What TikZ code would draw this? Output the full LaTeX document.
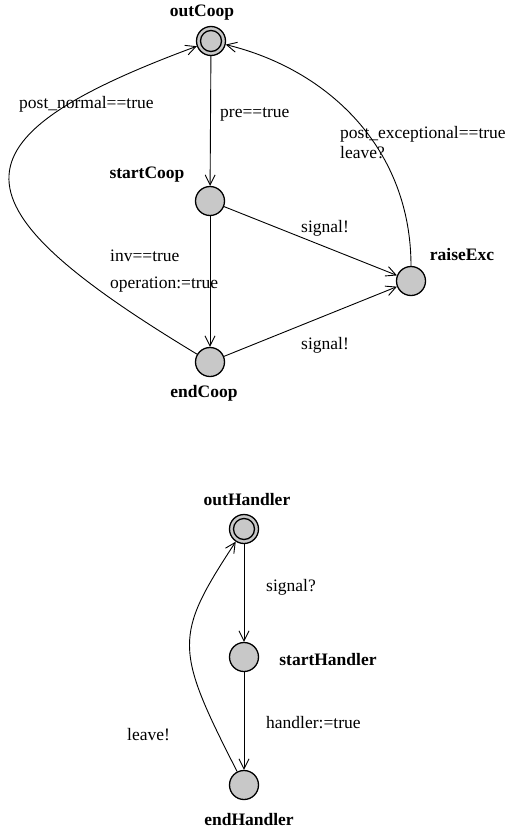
\documentclass[tikz,border=0pt]{standalone}
\usepackage{fontspec}
\setmainfont{Liberation Serif}
\usetikzlibrary{arrows.meta}
\definecolor{locgray}{RGB}{200,200,200}
\begin{document}
\begin{tikzpicture}[x=1pt,y=-1pt,
  every node/.style={font=\fontsize{17.5}{21}\selectfont},
  loc/.style={circle,draw=black,fill=locgray,line width=1.3pt,minimum size=29pt,inner sep=0pt},
  locname/.style={font=\fontsize{17.5}{21}\selectfont\bfseries,inner sep=0pt},
  lbl/.style={anchor=west,inner sep=0pt},
  edge/.style={draw=black,line width=0.9pt,-{Straight Barb[length=10pt,width=10pt,line width=0.9pt]}}]
\useasboundingbox (0,0) rectangle (506,830);

% --- first template: cooperation ---
\node[loc] (outCoop) at (211,41) {};
\draw[line width=1.3pt] (outCoop.center) circle[radius=10.5];
\node[loc] (startCoop) at (210,201) {};
\node[loc] (endCoop) at (210,362) {};
\node[loc] (raiseExc) at (411,281) {};

\node[locname] (outCoopName) at (202,13) {outCoop};
\node[locname] (startCoopName) at (147,175) {startCoop};
\node[locname] (endCoopName) at (204,393) {endCoop};
\node[locname] (raiseExcName) at (462,255) {raiseExc};

\draw[edge] (outCoop) -- (startCoop);
\draw[edge] (startCoop) -- (endCoop);
\draw[edge] (startCoop) -- (raiseExc);
\draw[edge] (endCoop) -- (raiseExc);
\draw[edge] (raiseExc) .. controls (411,150) and (330,70) .. (outCoop);
\draw[edge] (endCoop) .. controls (-50,205) and (-57,140) .. (outCoop);

\node[lbl] (lPostNormal) at (19,104) {post\_normal==true};
\node[lbl] (lPre) at (220,114) {pre==true};
\node[lbl] (lSig1) at (301,228) {signal!};
\node[lbl] (lInv) at (110,256) {inv==true};
\node[lbl] (lOp) at (110,285) {operation:=true};
\node[lbl] (lSig2) at (301,345) {signal!};
\node[lbl] (lPostExc) at (340,134) {post\_exceptional==true};
\node[lbl] (lLeaveQ) at (340,153) {leave?};

% --- second template: handler ---
\node[loc] (outHandler) at (244,529) {};
\draw[line width=1.3pt] (outHandler.center) circle[radius=10.5];
\node[loc] (startHandler) at (244,657) {};
\node[loc] (endHandler) at (244,785) {};

\node[locname] (outHandlerName) at (247,500) {outHandler};
\node[locname] (startHandlerName) at (328,660) {startHandler};
\node[locname] (endHandlerName) at (249,820) {endHandler};

\draw[edge] (outHandler) -- (startHandler);
\draw[edge] (startHandler) -- (endHandler);
\draw[edge] (endHandler) .. controls (174,648) and (174,636) .. (outHandler);

\node[lbl] (lSigQ) at (266,587) {signal?};
\node[lbl] (lHandler) at (266,723) {handler:=true};
\node[lbl] (lLeaveE) at (127,735) {leave!};
\end{tikzpicture}
\end{document}
